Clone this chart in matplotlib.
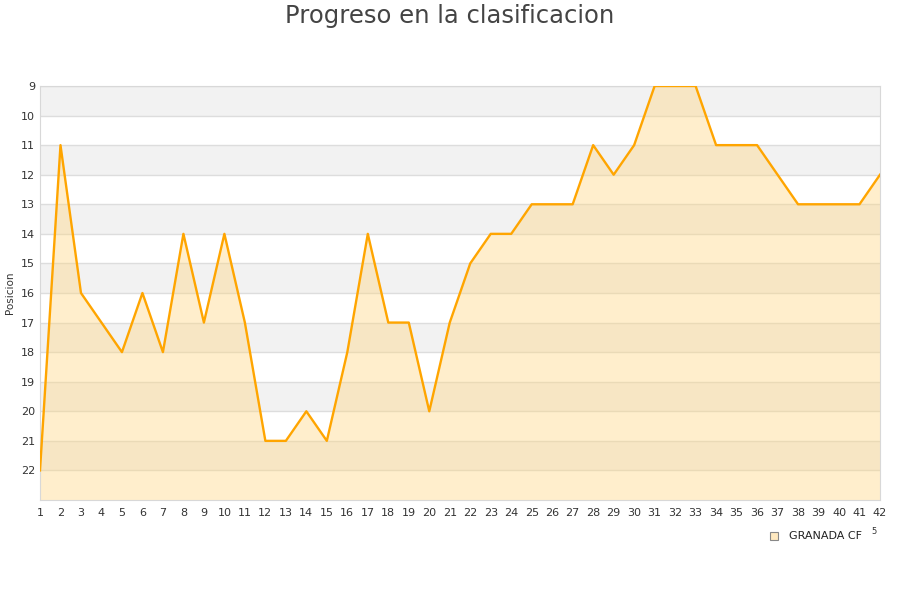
import numpy as np
import matplotlib.pyplot as plt
from matplotlib.lines import Line2D

# jornadas y posicion
jornadas = list(range(1, 43))
posicion = [22, 11, 16, 17, 18, 16, 18, 14, 17, 14,
            17, 21, 21, 20, 21, 18, 14, 17, 17, 20,
            17, 15, 14, 14, 13, 13, 13, 11, 12, 11,
            9, 9, 9, 11, 11, 11, 12, 13, 13, 13,
            13, 12]
equipo = "GRANADA CF"
titulo = "Progreso en la clasificacion"
y_ticks = list(range(9, 23))

fig = plt.figure(figsize=(9, 6), dpi=100)
ax = fig.add_axes([40 / 900, 1 - 500 / 600, 840 / 900, 414 / 600])

# bandas alternas
for k in range(9, 23):
    if (k - 9) % 2 == 0:
        ax.axhspan(k, k + 1, color='#f2f2f2', zorder=0, lw=0)
    ax.axhline(k, color='#dddddd', lw=1, zorder=1)

ax.fill_between(jornadas, posicion, 23, color='#ffd680', alpha=0.4, lw=0, zorder=2)
ax.plot(jornadas, posicion, color='#ffa500', lw=1.7, zorder=3)

ax.set_xlim(1, 42)
ax.set_ylim(23, 9)
ax.set_xticks(jornadas)
ax.set_yticks(y_ticks)
ax.tick_params(length=0, labelsize=8, labelcolor='#333333')
ax.tick_params(axis='x', pad=6)
for s in ax.spines.values():
    s.set_color('#d8d8d8')
ax.set_ylabel('Posicion', fontsize=7.5, color='#333333', labelpad=4)

fig.text(0.5, 1 - 16 / 600, titulo, ha='center', va='center', fontsize=17.5, color='#444444')

# leyenda
fig.lines.append(Line2D([774 / 900], [1 - 536 / 600], marker='s', markersize=6,
                        markerfacecolor='#ffe9c0', markeredgecolor='#888888',
                        markeredgewidth=0.8, transform=fig.transFigure))
fig.text(789 / 900, 1 - 536 / 600, equipo, ha='left', va='center', fontsize=8, color='#222222')
fig.text(874 / 900, 1 - 532 / 600, '5', ha='center', va='center', fontsize=6, color='#333333')

fig.savefig('out.png', dpi=100)
